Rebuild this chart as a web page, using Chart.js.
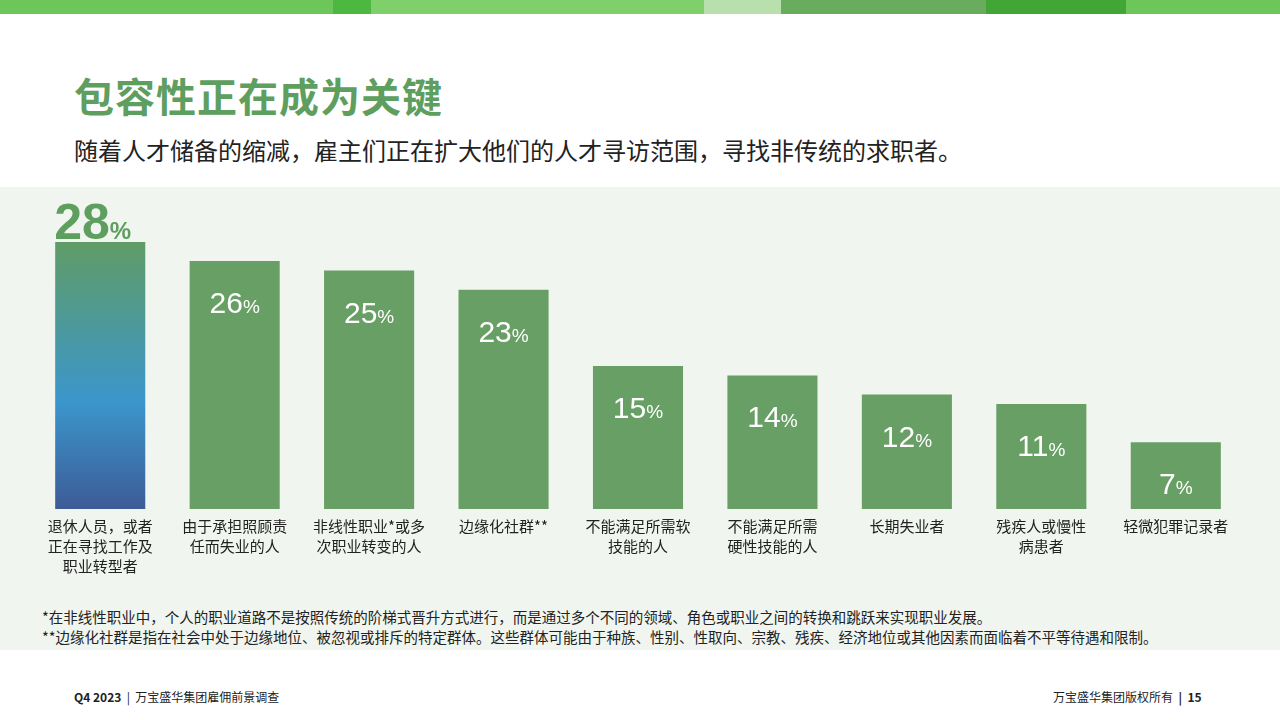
<!DOCTYPE html>
<html><head><meta charset="utf-8">
<script src="https://cdn.jsdelivr.net/npm/chart.js@4"></script>
<style>
body{margin:0;width:1280px;height:720px;position:relative;background:#fff;font-family:"Noto Sans CJK SC","Noto Sans",sans-serif;overflow:hidden}
#band{position:absolute;left:0;top:0;width:1280px;height:14px;background:linear-gradient(90deg,#6cc65a 0 26%,#4cb840 26% 29%,#7fd06a 29% 55%,#b8e0ac 55% 61%,#6aac5e 61% 77%,#42a636 77% 88%,#6cc65a 88%)}
#title{position:absolute;left:74px;top:66px;font-size:40px;font-weight:bold;color:#5e9e5e;letter-spacing:1px}
#sub{position:absolute;left:74px;top:132px;font-size:24px;color:#222}
#panel{position:absolute;left:0;top:187px;width:1280px;height:463px;background:#f0f5ef}
#wrap{position:absolute;left:33px;top:200px;width:1210px;height:400px}
.note{position:absolute;left:42px;font-size:14.5px;color:#222;white-space:nowrap}
.foot{position:absolute;top:688px;font-size:12px;color:#222}
</style></head><body>
<div id="band"></div>
<div id="title">包容性正在成为关键</div>
<div id="sub">随着人才储备的缩减，雇主们正在扩大他们的人才寻访范围，寻找非传统的求职者。</div>
<div id="panel"></div>
<div id="wrap"><canvas id="c"></canvas></div>
<div class="note" style="top:606px">*在非线性职业中，个人的职业道路不是按照传统的阶梯式晋升方式进行，而是通过多个不同的领域、角色或职业之间的转换和跳跃来实现职业发展。</div>
<div class="note" style="top:626px">**边缘化社群是指在社会中处于边缘地位、被忽视或排斥的特定群体。这些群体可能由于种族、性别、性取向、宗教、残疾、经济地位或其他因素而面临着不平等待遇和限制。</div>
<div class="foot" style="left:74px"><b>Q4 2023</b> &nbsp;| &nbsp;万宝盛华集团雇佣前景调查</div>
<div class="foot" style="left:1053px">万宝盛华集团版权所有 &nbsp;<b>| &nbsp;15</b></div>
<script>
const categories=[["退休人员，或者","正在寻找工作及","职业转型者"],["由于承担照顾责","任而失业的人"],["非线性职业*或多","次职业转变的人"],["边缘化社群**"],["不能满足所需软","技能的人"],["不能满足所需","硬性技能的人"],["长期失业者"],["残疾人或慢性","病患者"],["轻微犯罪记录者"]];
const values=[28,26,25,23,15,14,12,11,7];
const labelPlugin={id:'lbl',afterDatasetsDraw(ch){
 const ctx=ch.ctx,meta=ch.getDatasetMeta(0),base=ch.scales.y.getPixelForValue(0);
 ctx.save();ctx.textBaseline='alphabetic';
 meta.data.forEach((b,i)=>{
  const v=String(values[i]);
  if(i===0){
   ctx.font='bold 50px Arial, "Liberation Sans"';const w1=ctx.measureText(v).width;
   ctx.font='bold 24px Arial, "Liberation Sans"';const w2=ctx.measureText('%').width;
   const x0=b.x-45;ctx.fillStyle='#5e9e5e';
   ctx.font='bold 50px Arial, "Liberation Sans"';ctx.fillText(v,x0-1,b.y-3);
   ctx.font='bold 24px Arial, "Liberation Sans"';ctx.fillText('%',x0-1+w1,b.y-3);
  }else{
   ctx.font='30px Arial, "Liberation Sans"';const w1=ctx.measureText(v).width;
   ctx.font='19px Arial, "Liberation Sans"';const w2=ctx.measureText('%').width;
   const x0=b.x-(w1+w2)/2;ctx.fillStyle='#fff';
   ctx.font='30px Arial, "Liberation Sans"';ctx.fillText(v,x0,b.y+52);
   ctx.font='19px Arial, "Liberation Sans"';ctx.fillText('%',x0+w1,b.y+52);
  }
  ctx.fillStyle='#222';ctx.font='15px "Noto Sans CJK SC"';ctx.textAlign='center';
  categories[i].forEach((t,k)=>ctx.fillText(t,b.x,base+23+k*20));
  ctx.textAlign='left';
 });ctx.restore();}};
new Chart(document.getElementById('c'),{type:'bar',
 data:{labels:categories.map(c=>c.join('')),datasets:[{data:values,
  backgroundColor:(c)=>{if(c.dataIndex!==0||!c.chart.chartArea)return '#679f64';
   const a=c.chart.chartArea,y=c.chart.scales.y;const g=c.chart.ctx.createLinearGradient(0,y.getPixelForValue(28),0,a.bottom);
   g.addColorStop(0,'#5f9c66');g.addColorStop(0.6,'#3b96cc');g.addColorStop(1,'#3d5b96');return g;},
  barPercentage:0.67,categoryPercentage:1}]},
 options:{responsive:true,maintainAspectRatio:false,animation:false,
  layout:{padding:{top:0,bottom:91,left:0,right:0}},
  plugins:{legend:{display:false},tooltip:{enabled:false}},
  scales:{x:{display:false},y:{display:false,min:0,max:32.4}}},
 plugins:[labelPlugin]});
</script></body></html>
